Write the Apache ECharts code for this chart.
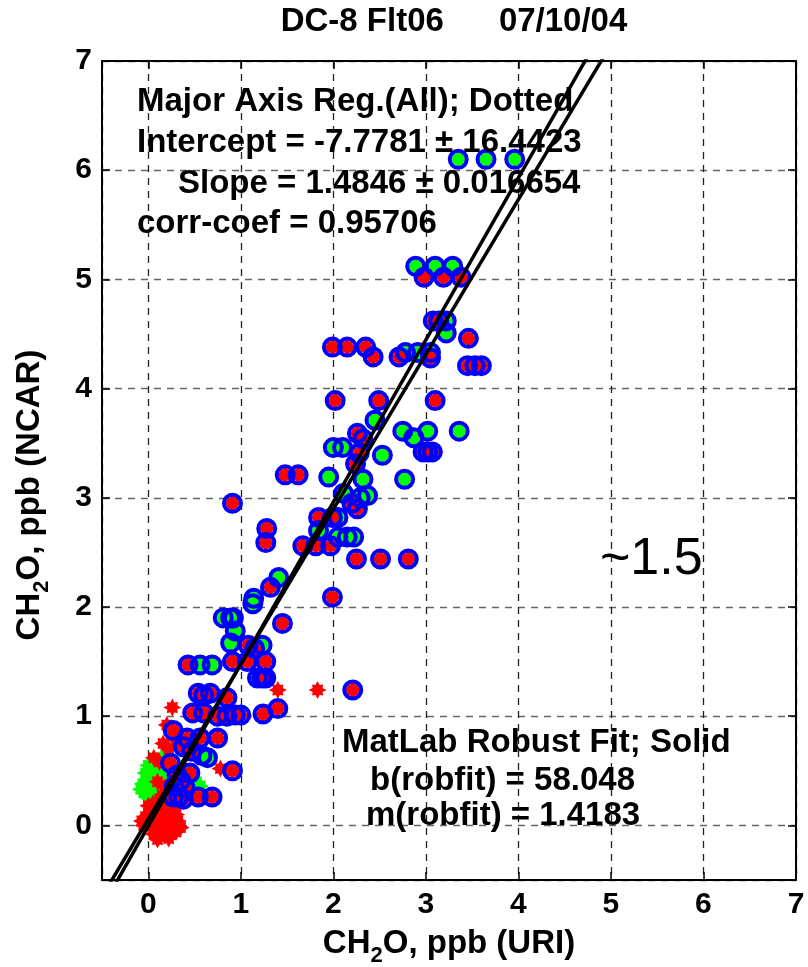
<!DOCTYPE html>
<html>
<head>
<meta charset="utf-8">
<script src="https://cdn.jsdelivr.net/npm/echarts@6/dist/echarts.min.js"></script>
<style>
html,body{margin:0;padding:0;background:#fff;}
#chart{width:808px;height:967px;}
</style>
</head>
<body>
<div id="chart"></div>
<script>
// ---------- data ----------
const titleText = 'DC-8 Flt06      07/10/04';
const tickValues = [0, 1, 2, 3, 4, 5, 6, 7];
// fit coefficients (ppb): [intercept, slope]
const majorAxisFit = [-0.0077781, 1.4846];
const robustFit = [0.058048, 1.4183];

// circled points with green centre
const ringGreen = [
  [3.35,6.10],[3.65,6.10],[3.96,6.10],
  [2.89,5.12],[3.10,5.12],[3.29,5.12],
  [3.22,4.62],[3.22,4.51],
  [2.78,4.33],[2.91,4.33],[3.05,4.33],
  [2.45,3.71],
  [2.75,3.61],[2.87,3.55],[3.02,3.61],[3.36,3.61],
  [2.53,3.39],
  [2.00,3.46],[2.10,3.46],
  [2.32,3.17],[2.77,3.17],[1.95,3.19],
  [2.11,3.04],[2.29,3.00],[2.37,3.02],
  [2.05,2.82],[1.84,2.70],
  [2.05,2.64],[2.15,2.64],[2.22,2.64],
  [1.41,2.27],
  [1.14,2.08],[1.13,2.03],
  [0.81,1.90],[0.89,1.90],[0.92,1.90],
  [0.94,1.78],[0.89,1.67],[1.23,1.65],
  [0.56,1.47],[0.69,1.47],
  [0.58,0.64],[0.64,0.62]
];
// circled points with red centre
const ringRed = [
  [2.98,5.02],[3.19,5.02],[3.38,5.02],
  [3.08,4.62],[3.14,4.62],
  [3.46,4.46],
  [3.45,4.21],[3.53,4.21],[3.60,4.21],
  [1.99,4.38],[2.15,4.38],[2.35,4.38],[2.43,4.29],
  [2.71,4.29],[3.05,4.28],
  [2.02,3.89],[2.49,3.89],[3.10,3.89],
  [2.97,3.42],[3.02,3.42],[3.07,3.42],
  [2.26,3.59],[2.32,3.54],[2.28,3.41],[2.24,3.31],
  [1.48,3.21],[1.62,3.21],
  [0.91,2.95],
  [2.26,2.90],[2.20,2.95],
  [1.84,2.82],[1.99,2.82],
  [1.28,2.72],[1.27,2.59],
  [1.67,2.56],[1.81,2.56],[1.97,2.56],
  [2.25,2.44],[2.51,2.44],[2.81,2.44],
  [1.32,2.18],
  [1.99,2.09],
  [1.45,1.85],
  [1.08,1.65],[1.15,1.62],
  [0.43,1.47],
  [0.91,1.50],[1.07,1.50],[1.27,1.50],
  [1.18,1.35],[1.23,1.35],[1.27,1.35],
  [2.21,1.24],
  [0.54,1.21],[0.67,1.21],[0.60,1.19],[0.85,1.17],
  [0.48,1.03],[0.60,1.03],[0.75,1.00],[0.85,1.00],[0.94,1.01],[1.00,1.01],
  [1.24,1.02],[1.40,1.07],
  [0.27,0.87],
  [0.42,0.80],[0.56,0.80],[0.75,0.80],[0.38,0.72],[0.47,0.68],
  [0.24,0.57],
  [0.91,0.50],
  [0.31,0.46],[0.35,0.41],[0.28,0.36],[0.40,0.34],[0.45,0.48],
  [0.27,0.26],[0.33,0.26],[0.38,0.24],[0.54,0.26],[0.69,0.26]
];
// uncircled red asterisks
const starRed = [
  [1.40,1.24],[1.83,1.24],[0.26,1.08],[0.78,0.52],
  [0.16,0.75],[0.22,0.70],[0.06,0.62],[0.12,0.58],[0.20,0.92],[0.30,0.78],
  [0.10,0.40],[0.18,0.35],[0.15,0.28],[0.22,0.30],[0.28,0.20],
  [-0.05,0.00],[0.00,0.05],[0.05,-0.03],[0.10,0.02],[0.15,-0.05],[0.20,0.00],
  [0.25,-0.04],[0.30,-0.06],[0.35,-0.02],[0.02,0.12],[0.08,0.10],[0.12,0.15],
  [0.18,0.10],[0.24,0.08],[0.05,0.20],[0.10,0.22],[0.16,0.22],[0.00,0.18],
  [-0.03,0.08],[0.06,-0.08],[0.12,-0.10],[0.18,-0.08],[0.28,0.02],[0.32,0.04],
  [0.20,0.16],[0.26,0.14],[0.04,0.02],[0.16,0.05],[0.22,-0.12],[0.10,-0.13],
  [0.30,0.10],[-0.07,0.04],[0.14,0.10],[0.22,0.24],[0.08,-0.02]
];
// uncircled green asterisks
const starGreen = [
  [0.00,0.25],[-0.05,0.30],[0.03,0.35],[0.08,0.40],[-0.02,0.42],[0.05,0.48],
  [0.10,0.50],[0.00,0.55],[0.07,0.60],[0.12,0.38],[0.02,0.30],[0.15,0.45],
  [0.20,0.55],[0.52,0.40],[0.56,0.36],[0.08,0.22],[-0.06,0.38],[0.14,0.62],
  [-0.08,0.33],[0.05,0.28],[0.18,0.42],[0.12,0.55],[-0.03,0.48]
];

// ---------- styling ----------
const FONT = "'Liberation Sans', Arial, Helvetica, sans-serif";
const RED = '#ff0000', GREEN = '#00ff00', BLUE = '#0000ff';
const XMIN = -0.5, XMAX = 7, YMIN = -0.5, YMAX = 7;

function asteriskPath(inner) {
  let d = '';
  for (let i = 0; i < 16; i++) {
    const k = i / 2;
    let r = (i % 2) ? inner : ((k % 2 === 0) ? 1 : 0.86);
    const a = Math.PI * i / 8 - Math.PI / 2;
    d += (i ? 'L' : 'M') + (50 + 50 * r * Math.cos(a)).toFixed(2) + ' ' + (50 + 50 * r * Math.sin(a)).toFixed(2) + ' ';
  }
  return 'path://' + d + 'Z';
}
const STAR = asteriskPath(0.6);
const STAR_FAT = asteriskPath(0.78);

function fitLine(fit) {
  const x0 = XMIN, x1 = 5.5;
  return [[x0, fit[0] + fit[1] * x0], [x1, fit[0] + fit[1] * x1]];
}

const tickFmt = v => (tickValues.indexOf(Math.round(v * 1000) / 1000) >= 0 ? String(Math.round(v)) : '');

function baseAxis(pos, isX, main) {
  return {
    type: 'value',
    position: pos,
    min: isX ? XMIN : YMIN,
    max: isX ? XMAX : YMAX,
    splitNumber: 8,
    axisLine: { show: true, onZero: false, lineStyle: { color: '#000', width: 2 } },
    axisTick: { show: true, inside: true, length: 8, lineStyle: { color: '#000', width: 1.5 } },
    axisLabel: main ? {
      show: true, formatter: tickFmt, color: '#000', fontSize: 30, fontWeight: 'bold',
      fontFamily: FONT, margin: 10
    } : { show: false },
    splitLine: main ? { show: true, lineStyle: { color: isX ? '#222' : '#666', type: [7, 6], width: 1.3 } } : { show: false }
  };
}

const textStyleBold = { fontSize: 33, fontWeight: 'bold', fontFamily: FONT, fill: '#000' };
function annot(txt, x, y) {
  return { type: 'text', x: x, y: y, silent: true, z: 100,
    style: Object.assign({ text: txt, textAlign: 'left', textVerticalAlign: 'middle' }, textStyleBold) };
}
const subRich = {
  a: { fontSize: 33, fontWeight: 'bold', fontFamily: FONT, fill: '#000' },
  b: { fontSize: 22, fontWeight: 'bold', fontFamily: FONT, fill: '#000', padding: [24, 0, 0, 0] }
};

const chart = echarts.init(document.getElementById('chart'));
chart.setOption({
  animation: false,
  backgroundColor: '#fff',
  grid: { left: 102, top: 61, right: 12, bottom: 87, containLabel: false },
  xAxis: [baseAxis('bottom', true, true), baseAxis('top', true, false)],
  yAxis: [baseAxis('left', false, true), baseAxis('right', false, false)],
  series: [
    { type: 'scatter', silent: true, data: starGreen, symbol: STAR, symbolSize: 18,
      itemStyle: { color: GREEN, opacity: 1 }, z: 2 },
    { type: 'scatter', silent: true, data: starRed, symbol: STAR, symbolSize: 18,
      itemStyle: { color: RED, opacity: 1 }, z: 2 },
    { type: 'scatter', silent: true, data: ringGreen, symbol: STAR_FAT, symbolSize: 16,
      itemStyle: { color: GREEN, opacity: 1 }, z: 3 },
    { type: 'scatter', silent: true, data: ringRed, symbol: STAR_FAT, symbolSize: 16,
      itemStyle: { color: RED, opacity: 1 }, z: 3 },
    { type: 'scatter', silent: true, data: ringGreen.concat(ringRed), symbol: 'circle', symbolSize: 17,
      itemStyle: { color: 'rgba(0,0,0,0)', borderColor: BLUE, borderWidth: 4, opacity: 1 }, z: 4 },
    { type: 'line', silent: true, data: fitLine(robustFit), symbol: 'none', clip: true,
      lineStyle: { color: '#000', width: 3.5 }, z: 5 },
    { type: 'line', silent: true, data: fitLine(majorAxisFit), symbol: 'none', clip: true,
      lineStyle: { color: '#000', width: 3.5 }, z: 5 }
  ],
  graphic: [
    { type: 'text', x: 454, y: 22, silent: true,
      style: Object.assign({ text: titleText, textAlign: 'center', textVerticalAlign: 'middle' }, textStyleBold) },
    { type: 'text', x: 449, y: 944, silent: true,
      style: { text: '{a|CH}{b|2}{a|O, ppb (URI)}', rich: subRich, textAlign: 'center', textVerticalAlign: 'middle' } },
    { type: 'text', x: 30, y: 495, rotation: Math.PI / 2, silent: true,
      style: { text: '{a|CH}{b|2}{a|O, ppb (NCAR)}', rich: subRich, textAlign: 'center', textVerticalAlign: 'middle' } },
    annot('Major Axis Reg.(All); Dotted', 137, 102),
    annot('Intercept = -7.7781 \u00b1 16.4423', 137, 143),
    annot('Slope = 1.4846 \u00b1 0.016654', 178, 184),
    annot('corr-coef = 0.95706', 137, 224),
    { type: 'text', x: 600, y: 560, silent: true, z: 100,
      style: { text: '~1.5', textAlign: 'left', textVerticalAlign: 'middle', fontSize: 52, fontFamily: FONT, fill: '#000' } },
    annot('MatLab Robust Fit; Solid', 342, 743),
    annot('b(robfit) = 58.048', 370, 781),
    annot('m(robfit) = 1.4183', 366, 816)
  ]
});
</script>
</body>
</html>
